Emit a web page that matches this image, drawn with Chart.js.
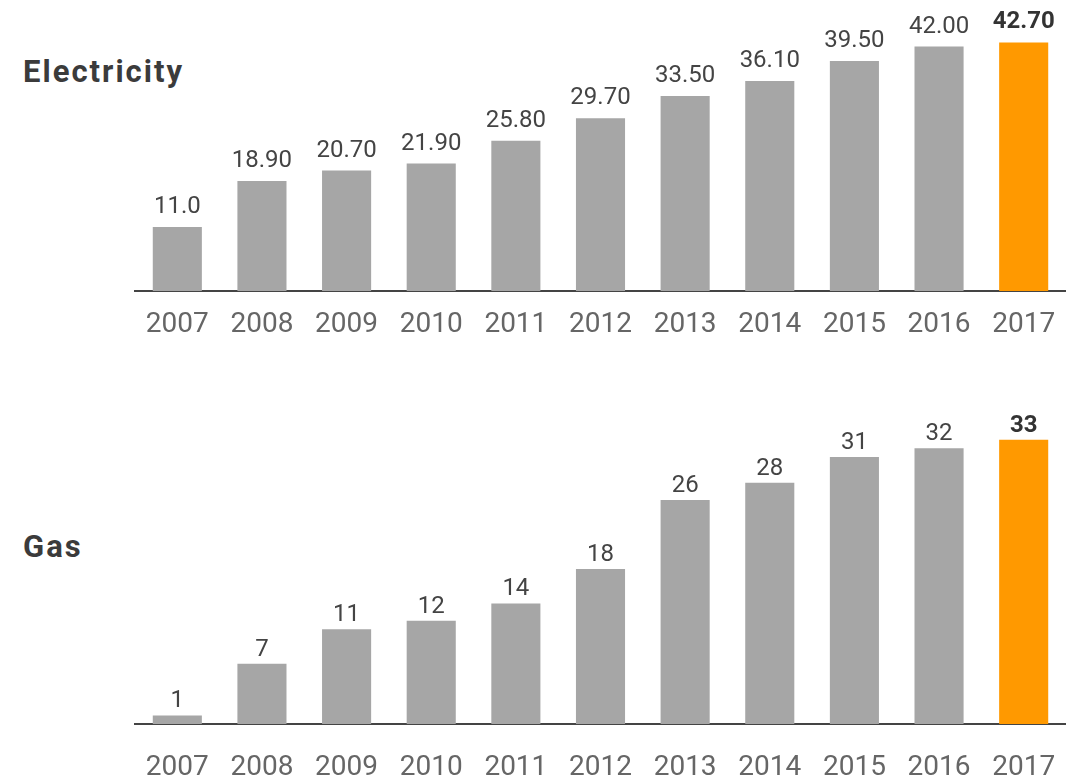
<!DOCTYPE html>
<html>
<head>
<meta charset="utf-8">
<script src="https://cdn.jsdelivr.net/npm/chart.js@4/dist/chart.umd.min.js"></script>
<style>
  html, body { margin: 0; padding: 0; background: #ffffff; }
  body { width: 1066px; height: 778px; position: relative; overflow: hidden; font-family: Roboto, sans-serif; }
  .panel { position: absolute; left: 0; width: 1066px; }
  .title { position: absolute; left: 23px; font-family: Roboto, sans-serif; font-weight: 700; font-size: 31px; line-height: 1; color: #3b3b3b; letter-spacing: 2px; }
</style>
</head>
<body>
<div class="title" style="top:56px">Electricity</div>
<div class="title" style="top:531px">Gas</div>
<div class="panel" style="top:0;height:345px"><canvas id="elec"></canvas></div>
<div class="panel" style="top:345px;height:433px"><canvas id="gas"></canvas></div>
<script>
// Years on the category axis
const years = ['2007', '2008', '2009', '2010', '2011', '2012', '2013', '2014', '2015', '2016', '2017'];

// Electricity series and the labels printed above each bar
const electricity = [11.0, 18.9, 20.7, 21.9, 25.8, 29.7, 33.5, 36.1, 39.5, 42.0, 42.7];
const electricityLabels = ['11.0', '18.90', '20.70', '21.90', '25.80', '29.70', '33.50', '36.10', '39.50', '42.00', '42.70'];

// Gas series
const gas = [1, 7, 11, 12, 14, 18, 26, 28, 31, 32, 33];
const gasLabels = gas.map(v => String(v));

const GREY = '#a6a6a6';
const ORANGE = '#ff9900';
const barColors = years.map((_, i) => i === years.length - 1 ? ORANGE : GREY);

// Draws each bar's value above it; the latest year is set in bold
const valueLabels = {
  id: 'valueLabels',
  afterDatasetsDraw(chart, args, opts) {
    const ctx = chart.ctx;
    const meta = chart.getDatasetMeta(0);
    const labels = opts.labels;
    ctx.save();
    ctx.textAlign = 'center';
    ctx.textBaseline = 'alphabetic';
    meta.data.forEach((bar, i) => {
      const last = i === meta.data.length - 1;
      ctx.font = (last ? '700 ' : '400 ') + '24px Roboto';
      ctx.fillStyle = last ? '#333333' : '#444444';
      ctx.fillText(labels[i], bar.x, bar.y - opts.gap);
    });
    ctx.restore();
  }
};

function makeChart(id, values, labels, yMax, tickPad, gap) {
  return new Chart(document.getElementById(id), {
    type: 'bar',
    data: {
      labels: years,
      datasets: [{
        data: values,
        backgroundColor: barColors,
        borderWidth: 0,
        categoryPercentage: 1.0,
        barPercentage: 0.58
      }]
    },
    options: {
      responsive: true,
      maintainAspectRatio: false,
      animation: false,
      layout: { padding: { top: 0, right: 0, bottom: 0, left: 135 } },
      plugins: {
        legend: { display: false },
        tooltip: { enabled: false },
        valueLabels: { labels: labels, gap: gap }
      },
      scales: {
        x: {
          grid: { display: false, drawTicks: false },
          border: { display: true, color: '#444444', width: 2 },
          ticks: {
            font: { family: 'Roboto', size: 28 },
            color: '#666666',
            padding: tickPad,
            maxRotation: 0,
            autoSkip: false
          },
          afterFit(scale) {
            // fixed axis band; the axis line runs to the right edge
            scale.height = 54;
            scale.paddingLeft = 0;
            scale.paddingRight = 0;
          }
        },
        y: {
          display: false,
          min: 0,
          max: yMax
        }
      }
    },
    plugins: [valueLabels]
  });
}

makeChart('elec', electricity, electricityLabels, 50, 17, 14);
makeChart('gas', gas, gasLabels, 44, 27, 8);
</script>
</body>
</html>
